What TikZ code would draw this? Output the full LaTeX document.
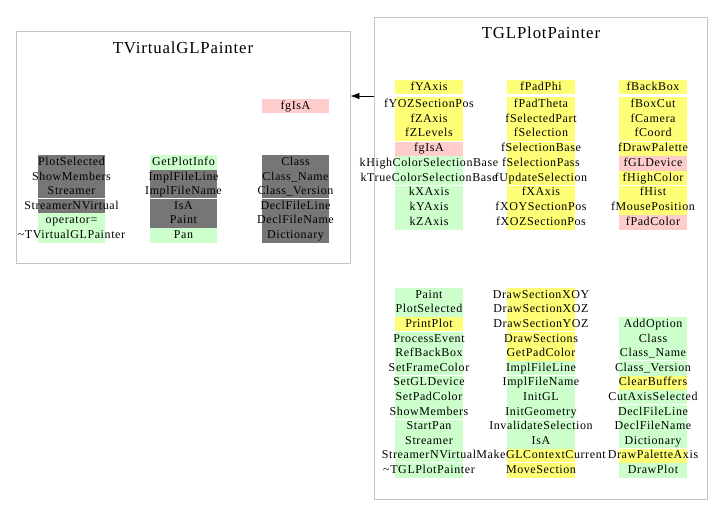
\documentclass[tikz,border=0pt]{standalone}
\usepackage{fontspec}
\setmainfont{Liberation Serif}[LetterSpace=5]
\usetikzlibrary{arrows.meta}
\definecolor{cgray}{HTML}{767676}
\definecolor{cgreen}{HTML}{CCFFCC}
\definecolor{cyel}{HTML}{FFFF77}
\definecolor{cpink}{HTML}{FFCCCC}
\definecolor{cframe}{HTML}{C4C4C4}
\tikzset{
  cellbox/.style={minimum width=67.5pt, minimum height=14.8pt, inner sep=0pt,
    text height=8.5pt, text depth=2.5pt,
    font=\fontsize{12}{14}\selectfont},
  G/.style={fill=cgreen}, Y/.style={fill=cyel}, P/.style={fill=cpink}, K/.style={fill=cgray},
  classbox/.style={draw=cframe, line width=0.8pt, inner sep=0pt},
  titletext/.style={font=\fontsize{16.8}{20}\selectfont, inner sep=0pt},
  sep/.style={draw=white, line width=0.9pt}
}
\begin{document}
\begin{tikzpicture}[x=1pt, y=-1pt]
\useasboundingbox (0,0) rectangle (723,525);
% class frames
\node[classbox, minimum width=334pt, minimum height=232pt] (L) at (183,147) {};
\node[classbox, minimum width=333pt, minimum height=482pt] (R) at (540.5,258) {};
\node[titletext] (Ltitle) at (183,48) {TVirtualGLPainter};
\node[titletext] (Rtitle) at (541,33) {TGLPlotPainter};
% left box
\node[cellbox, P] (LfgIsA) at (295.5,106) {\makebox[0pt]{fgIsA}};
\foreach \t/\c [count=\i from 0] in {PlotSelected/K, ShowMembers/K, Streamer/K, StreamerNVirtual/K, operator=/G, {\textasciitilde}TVirtualGLPainter/G}
  \node[cellbox, \c] (La\i) at (71.5,162.75+14.5*\i) {\makebox[0pt]{\t}};
\foreach \t/\c [count=\i from 0] in {GetPlotInfo/G, ImplFileLine/K, ImplFileName/K, IsA/K, Paint/K, Pan/G}
  \node[cellbox, \c] (Lb\i) at (183.5,162.75+14.5*\i) {\makebox[0pt]{\t}};
\foreach \t/\c [count=\i from 0] in {Class/K, Class\_Name/K, Class\_Version/K, DeclFileLine/K, DeclFileName/K, Dictionary/K}
  \node[cellbox, \c] (Lc\i) at (295.5,162.75+14.5*\i) {\makebox[0pt]{\t}};
% right box, data members
\node[cellbox, Y] (Rtop1) at (429,87) {\makebox[0pt]{fYAxis}};
\node[cellbox, Y] (Rtop2) at (541,87) {\makebox[0pt]{fPadPhi}};
\node[cellbox, Y] (Rtop3) at (653,87) {\makebox[0pt]{fBackBox}};
\foreach \t/\c [count=\i from 0] in {fYOZSectionPos/Y, fZAxis/Y, fZLevels/Y, fgIsA/P, kHighColorSelectionBase/G, kTrueColorSelectionBase/G, kXAxis/G, kYAxis/G, kZAxis/G}
  \node[cellbox, \c] (Ra\i) at (429,104.4+14.75*\i) {\makebox[0pt]{\t}};
\foreach \t/\c [count=\i from 0] in {fPadTheta/Y, fSelectedPart/Y, fSelection/Y, fSelectionBase/Y, fSelectionPass/Y, fUpdateSelection/Y, fXAxis/Y, fXOYSectionPos/Y, fXOZSectionPos/Y}
  \node[cellbox, \c] (Rb\i) at (541,104.4+14.75*\i) {\makebox[0pt]{\t}};
\foreach \t/\c [count=\i from 0] in {fBoxCut/Y, fCamera/Y, fCoord/Y, fDrawPalette/Y, fGLDevice/P, fHighColor/Y, fHist/Y, fMousePosition/Y, fPadColor/P}
  \node[cellbox, \c] (Rc\i) at (653,104.4+14.75*\i) {\makebox[0pt]{\t}};
% right box, methods
\foreach \t/\c [count=\i from 0] in {Paint/G, PlotSelected/G, PrintPlot/Y, ProcessEvent/G, RefBackBox/G, SetFrameColor/G, SetGLDevice/G, SetPadColor/G, ShowMembers/G, StartPan/G, Streamer/G, StreamerNVirtual/G, {\textasciitilde}TGLPlotPainter/G}
  \node[cellbox, \c] (Rma\i) at (429,295.3+14.6*\i) {\makebox[0pt]{\t}};
\foreach \t/\c [count=\i from 0] in {DrawSectionXOY/Y, DrawSectionXOZ/Y, DrawSectionYOZ/Y, DrawSections/Y, GetPadColor/Y, ImplFileLine/G, ImplFileName/G, InitGL/G, InitGeometry/G, InvalidateSelection/G, IsA/G, MakeGLContextCurrent/Y, MoveSection/Y}
  \node[cellbox, \c] (Rmb\i) at (541,295.3+14.6*\i) {\makebox[0pt]{\t}};
\foreach \t/\c [count=\i from 2] in {AddOption/G, Class/G, Class\_Name/G, Class\_Version/G, ClearBuffers/Y, CutAxisSelected/G, DeclFileLine/G, DeclFileName/G, Dictionary/G, DrawPaletteAxis/Y, DrawPlot/G}
  \node[cellbox, \c] (Rmc\i) at (653,295.3+14.6*\i) {\makebox[0pt]{\t}};
% group separators
\foreach \n in {La3, Lb3, Lc3, Ra3, Ra6, Rb3, Rb6, Rc3, Rc6, Rma3, Rma6, Rma9, Rma12, Rmb3, Rmb6, Rmb9, Rmb12, Rmc5, Rmc8, Rmc11}
  \draw[sep] (\n.north west) -- (\n.north east);
% inheritance arrow
\coordinate (arrowy) at (0,96);
\draw[-{Latex[length=9pt,width=6.5pt]}, line width=0.8pt] (R.west |- arrowy) -- (L.east |- arrowy);
\end{tikzpicture}
\end{document}
